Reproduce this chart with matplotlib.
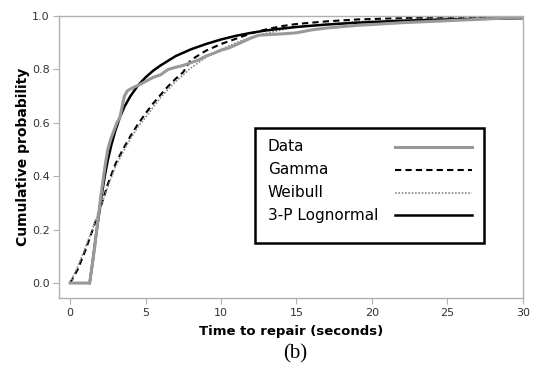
import matplotlib
matplotlib.use("Agg")
import matplotlib.pyplot as plt
from matplotlib.patches import Rectangle

# values
data_x = [0, 1.3, 1.45, 1.6, 1.75, 1.9, 2.05, 2.2, 2.35, 2.5, 2.7, 2.9, 3.1, 3.3, 3.45,
          3.6, 3.8, 4.1, 4.5, 5.0, 5.5, 6.0, 6.5, 7.0, 7.5, 8.0, 8.5, 9.0, 9.5, 10, 10.5,
          11, 11.5, 12, 12.5, 13, 14, 15, 16, 17, 18, 19, 20, 22, 24, 26, 28, 30]
data_y = [0, 0, 0.06, 0.12, 0.19, 0.26, 0.33, 0.39, 0.45, 0.50, 0.54, 0.57, 0.60, 0.62,
          0.66, 0.70, 0.72, 0.73, 0.74, 0.755, 0.77, 0.78, 0.80, 0.808, 0.815, 0.825,
          0.835, 0.85, 0.86, 0.872, 0.88, 0.892, 0.905, 0.918, 0.928, 0.93, 0.933, 0.937,
          0.948, 0.955, 0.96, 0.965, 0.968, 0.975, 0.98, 0.985, 0.99, 0.995]

gamma_x = [0, 0.5, 1, 1.5, 2, 2.5, 3, 3.5, 4, 4.5, 5, 5.5, 6, 6.5, 7, 7.5, 8, 9, 10, 11,
           12, 13, 14, 15, 17, 19, 22, 25, 30]
gamma_y = [0, 0.05, 0.12, 0.2, 0.28, 0.37, 0.445, 0.5, 0.55, 0.595, 0.635, 0.672, 0.705,
           0.737, 0.765, 0.79, 0.835, 0.87, 0.895, 0.915, 0.935, 0.95, 0.962, 0.97, 0.98,
           0.987, 0.992, 0.995, 0.998]

weib_x = [0, 0.5, 1, 1.5, 2, 2.5, 3, 3.5, 4, 4.5, 5, 6, 7, 8, 9, 10, 11, 12, 13, 14, 15,
          17, 19, 22, 25, 30]
weib_y = [0, 0.06, 0.13, 0.205, 0.28, 0.36, 0.435, 0.49, 0.54, 0.585, 0.62, 0.695, 0.755,
          0.805, 0.845, 0.875, 0.9, 0.92, 0.935, 0.948, 0.958, 0.97, 0.979, 0.987, 0.992,
          0.996]

logn_x = [1.3, 1.5, 1.7, 1.9, 2.1, 2.3, 2.5, 2.75, 3.0, 3.3, 3.6, 4.0, 4.5, 5.0, 5.5, 6.0,
          7.0, 8.0, 9.0, 10, 11, 12, 13, 14, 15, 17, 19, 22, 25, 30]
logn_y = [0, 0.08, 0.17, 0.25, 0.33, 0.40, 0.46, 0.52, 0.57, 0.62, 0.66, 0.70, 0.74, 0.77,
          0.795, 0.815, 0.85, 0.875, 0.895, 0.912, 0.926, 0.937, 0.946, 0.953, 0.959,
          0.968, 0.975, 0.982, 0.987, 0.992]

x_ticks = [0, 5, 10, 15, 20, 25, 30]
y_ticks = [0.0, 0.2, 0.4, 0.6, 0.8, 1.0]

series = [
    ("Data", data_x, data_y, dict(color="#999999", lw=2.2, ls="-")),
    ("Gamma", gamma_x, gamma_y, dict(color="black", lw=1.5, ls=(0, (3, 2)))),
    ("Weibull", weib_x, weib_y, dict(color="#888888", lw=1.2, ls=(0, (1, 1)))),
    ("3-P Lognormal", logn_x, logn_y, dict(color="black", lw=1.8, ls="-")),
]

fig = plt.figure(figsize=(5.34, 3.69), dpi=100)
ax = fig.add_axes([0.1114, 0.1924, 0.8676, 0.7642])

# fits first, data on top
for name, xs, ys, st in [series[1], series[2], series[3], series[0]]:
    ax.plot(xs, ys, **st)

ax.set_xlim(-0.7, 30)
ax.set_ylim(-0.056, 1.0)
ax.set_xticks(x_ticks)
ax.set_yticks(y_ticks)
ax.set_yticklabels(["%.1f" % v for v in y_ticks])
for s in ax.spines.values():
    s.set_color("#b0b0b0")
    s.set_linewidth(1.0)
ax.tick_params(direction="out", length=4, color="#b0b0b0", labelsize=8,
               labelcolor="#333333", pad=3)
ax.set_xlabel("Time to repair (seconds)", fontsize=9.5, fontweight="bold", labelpad=5)
ax.set_ylabel("Cumulative probability", fontsize=10, fontweight="bold", labelpad=1.5)

# legend box, text left and line sample right
ax.add_patch(Rectangle((0.422, 0.195), 0.494, 0.408, transform=ax.transAxes,
                       fill=True, facecolor="white", edgecolor="black", lw=1.8,
                       zorder=5))
rows = [0.536, 0.454, 0.373, 0.294]
for (name, xs, ys, st), yr in zip(series, rows):
    ax.text(0.450, yr, name, transform=ax.transAxes, fontsize=11, va="center",
            ha="left", zorder=6)
    ax.plot([0.724, 0.890], [yr, yr], transform=ax.transAxes, zorder=6, **st)

fig.text(0.553, 0.042, "(b)", fontsize=15, family="Liberation Serif",
         ha="center", va="center")

fig.savefig("out.png", dpi=100)
